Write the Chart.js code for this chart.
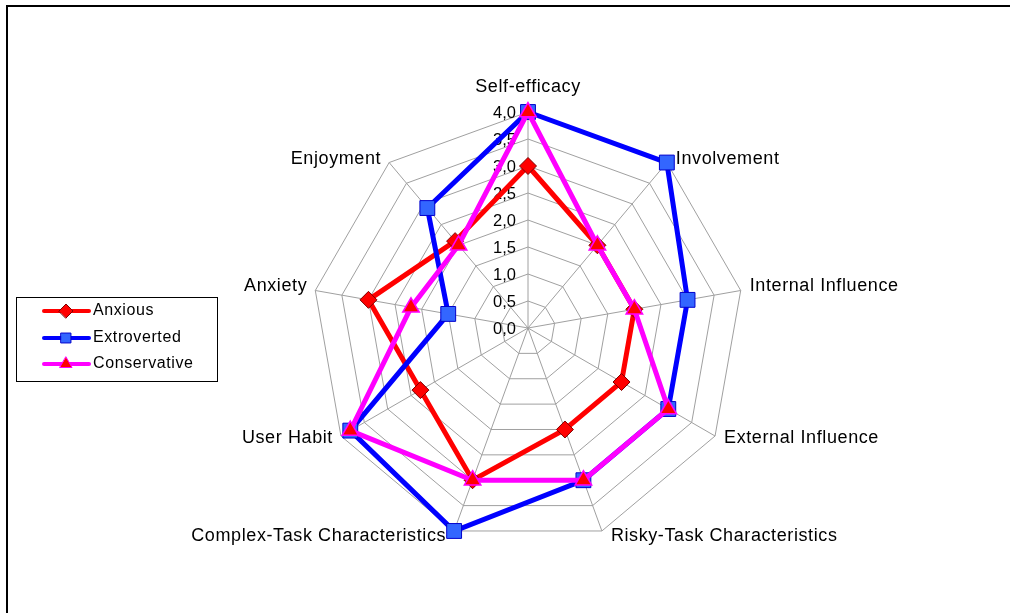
<!DOCTYPE html>
<html>
<head>
<meta charset="utf-8">
<script src="https://cdn.jsdelivr.net/npm/chart.js@4/dist/chart.umd.min.js"></script>
<style>
  html, body { margin: 0; padding: 0; background: #fff; }
  canvas { display: block; }
</style>
</head>
<body>
<canvas id="c" width="1010" height="613"></canvas>
<script>
const categories = ['Self-efficacy', 'Involvement', 'Internal Influence', 'External Influence',
  'Risky-Task Characteristics', 'Complex-Task Characteristics', 'User Habit', 'Anxiety', 'Enjoyment'];
const anxious      = [3.0, 2.0, 2.0, 2.0, 2.0, 3.0, 2.3, 3.0, 2.1];
const extroverted  = [4.0, 4.0, 3.0, 3.0, 3.0, 4.0, 3.8, 1.5, 2.9];
const conservative = [4.0, 2.0, 2.0, 3.0, 3.0, 3.0, 3.8, 2.2, 2.0];
const tickValues = [0, 0.5, 1, 1.5, 2, 2.5, 3, 3.5, 4];
const tickLabels = ['0,0', '0,5', '1,0', '1,5', '2,0', '2,5', '3,0', '3,5', '4,0'];
const seriesNames = ['Anxious', 'Extroverted', 'Conservative'];

const FONT = "'Liberation Sans', Arial, sans-serif";

const framePlugin = {
  id: 'frame',
  beforeDraw(chart) {
    const ctx = chart.ctx;
    ctx.save();
    ctx.fillStyle = '#fff';
    ctx.fillRect(0, 0, chart.width, chart.height);
    ctx.strokeStyle = '#000';
    ctx.lineWidth = 2;
    ctx.beginPath();
    ctx.moveTo(7, chart.height);
    ctx.lineTo(7, 6);
    ctx.lineTo(chart.width, 6);
    ctx.stroke();
    ctx.restore();
  }
};

const tickPlugin = {
  id: 'tickLabels',
  beforeDatasetsDraw(chart) {
    const scale = chart.scales.r;
    const ctx = chart.ctx;
    ctx.save();
    ctx.fillStyle = '#000';
    ctx.font = '16.5px ' + FONT;
    ctx.textAlign = 'right';
    ctx.textBaseline = 'middle';
    tickValues.forEach((v, i) => {
      const d = scale.getDistanceFromCenterForValue(v);
      ctx.fillText(tickLabels[i], scale.xCenter - 12, scale.yCenter - d + 1);
    });
    ctx.restore();
  }
};

const pointLabelPlugin = {
  id: 'pointLabelsCustom',
  afterDraw(chart) {
    const scale = chart.scales.r;
    const ctx = chart.ctx;
    const n = categories.length;
    ctx.save();
    ctx.fillStyle = '#000';
    ctx.font = '18px ' + FONT;
    ctx.letterSpacing = '0.6px';
    ctx.textBaseline = 'middle';
    categories.forEach((label, i) => {
      const p = scale.getPointPosition(i, scale.drawingArea);
      const a = i * 2 * Math.PI / n;
      const s = Math.sin(a), c = Math.cos(a);
      let x = p.x, y = p.y;
      if (Math.abs(s) < 0.05) {
        ctx.textAlign = 'center';
        y -= 25;
      } else {
        ctx.textAlign = s > 0 ? 'left' : 'right';
        x += s > 0 ? 9 : -8;
        y += c > 0 ? -4 : (c > -0.9 ? 2 : 5);
      }
      ctx.fillText(label, x, y);
    });
    ctx.restore();
  }
};

const legendPlugin = {
  id: 'legendBox',
  afterDraw(chart) {
    const ctx = chart.ctx;
    ctx.save();
    ctx.strokeStyle = '#000';
    ctx.lineWidth = 1;
    ctx.strokeRect(16.5, 297.5, 201, 84);
    const rows = [311, 338, 364];
    const legendRadius = [7, 7, 7];
    chart.data.datasets.forEach((ds, i) => {
      const y = rows[i];
      ctx.strokeStyle = ds.borderColor;
      ctx.lineWidth = 4;
      ctx.lineCap = 'round';
      ctx.beginPath();
      ctx.moveTo(44, y);
      ctx.lineTo(89, y);
      ctx.stroke();
      ctx.fillStyle = ds.pointBackgroundColor;
      ctx.strokeStyle = ds.pointBorderColor;
      ctx.lineWidth = 1;
      Chart.helpers.drawPoint(ctx, {
        pointStyle: ds.pointStyle, rotation: 0, radius: legendRadius[i], borderWidth: 1
      }, 66, y);
      ctx.fillStyle = '#000';
      ctx.font = '16px ' + FONT;
      ctx.letterSpacing = '0.6px';
      ctx.textAlign = 'left';
      ctx.textBaseline = 'middle';
      ctx.fillText(seriesNames[i], 93, y);
    });
    ctx.restore();
  }
};

new Chart(document.getElementById('c'), {
  type: 'radar',
  data: {
    labels: categories,
    datasets: [
      {
        label: seriesNames[0], data: anxious, order: 3,
        borderColor: '#ff0000', borderWidth: 5, fill: false, tension: 0,
        pointStyle: 'rectRot', pointRadius: 8.5, pointHoverRadius: 8.5,
        pointBackgroundColor: '#ff0000', pointBorderColor: '#800000', pointBorderWidth: 1
      },
      {
        label: seriesNames[1], data: extroverted, order: 2,
        borderColor: '#0000ff', borderWidth: 5, fill: false, tension: 0,
        pointStyle: 'rect', pointRadius: 10.5, pointHoverRadius: 10.5,
        pointBackgroundColor: '#3366ff', pointBorderColor: '#0000cc', pointBorderWidth: 1
      },
      {
        label: seriesNames[2], data: conservative, order: 1,
        borderColor: '#ff00ff', borderWidth: 5, fill: false, tension: 0,
        pointStyle: 'triangle', pointRadius: 9.5, pointHoverRadius: 9.5,
        pointBackgroundColor: '#ff0000', pointBorderColor: '#ff00ff', pointBorderWidth: 1.5
      }
    ]
  },
  options: {
    responsive: false,
    devicePixelRatio: 1,
    animation: false,
    layout: { padding: { left: 312, right: 266, top: 112, bottom: 69 } },
    plugins: { legend: { display: false }, tooltip: { enabled: false } },
    scales: {
      r: {
        min: 0, max: 4,
        ticks: { stepSize: 0.5, display: false },
        pointLabels: { display: false },
        grid: { color: '#a0a0a0', lineWidth: 1 },
        angleLines: { color: '#a0a0a0', lineWidth: 1 }
      }
    }
  },
  plugins: [framePlugin, tickPlugin, pointLabelPlugin, legendPlugin]
});
</script>
</body>
</html>
